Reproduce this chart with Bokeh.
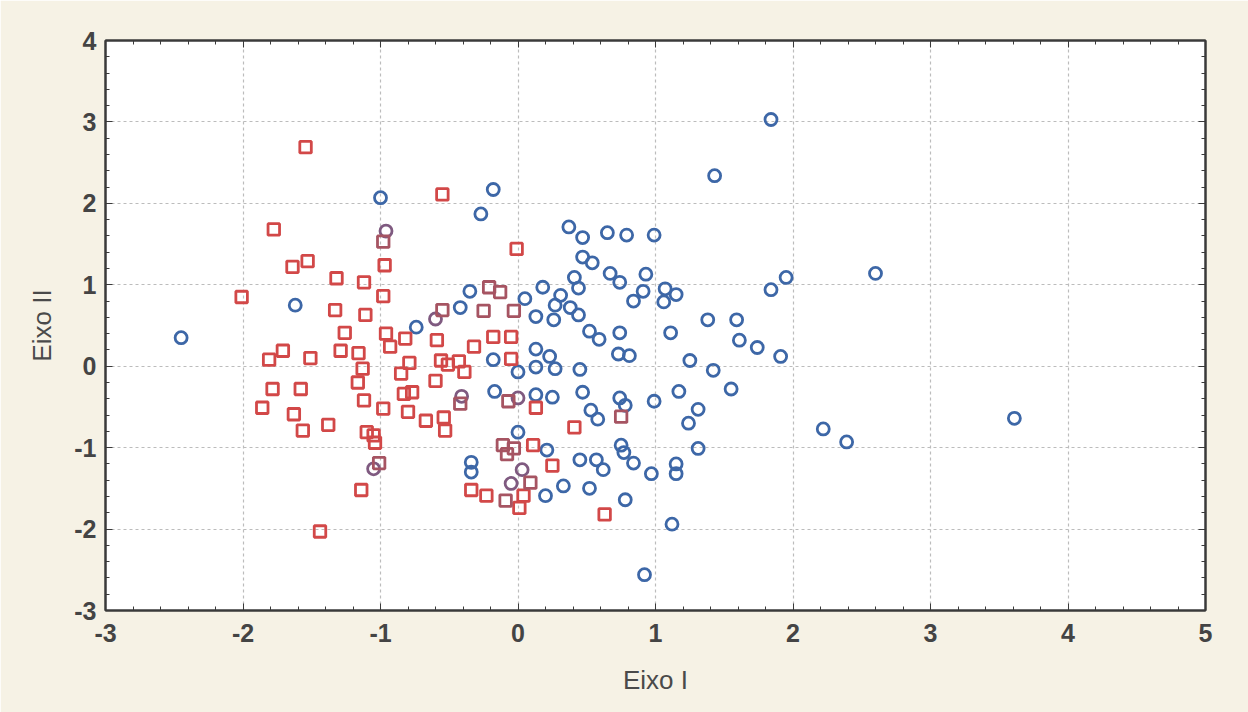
from bokeh.plotting import figure
from bokeh.models import Range1d, LinearAxis, SingleIntervalTicker, CustomJSTickFormatter
from bokeh.embed import file_html
from bokeh.resources import INLINE

# ---- data ----
red_x = [-1.545, -1.776, -2.01, -1.64, -1.53, -1.32, -1.12, -0.97, -0.98, -1.33, -1.11, -1.26, -0.96, -0.93,
         -1.29, -1.16, -1.71, -1.81, -1.51, -1.13, -0.85, -1.165, -1.785, -1.58, -0.83, -1.12, -1.86, -0.98,
         -1.63, -1.38, -1.565, -1.10, -1.05, -1.04, -1.14, -1.44, -0.55, -0.01, -0.82, -0.59, -0.18, -0.05,
         -0.32, -0.05, -0.79, -0.56, -0.51, -0.43, -0.39, -0.60, -0.77, 0.13, -0.80, -0.67, -0.54, -0.53,
         0.41, 0.11, -0.34, -0.23, 0.04, 0.01, 0.25, 0.63]
red_y = [2.69, 1.68, 0.85, 1.22, 1.29, 1.08, 1.03, 1.24, 0.86, 0.69, 0.63, 0.41, 0.40, 0.24,
         0.19, 0.16, 0.19, 0.08, 0.10, -0.03, -0.09, -0.20, -0.28, -0.28, -0.34, -0.42, -0.51, -0.52,
         -0.59, -0.72, -0.79, -0.81, -0.85, -0.94, -1.52, -2.03, 2.11, 1.44, 0.34, 0.32, 0.36, 0.36,
         0.24, 0.09, 0.04, 0.07, 0.02, 0.06, -0.07, -0.18, -0.32, -0.51, -0.56, -0.67, -0.63, -0.79,
         -0.75, -0.97, -1.52, -1.59, -1.59, -1.74, -1.22, -1.82]

mauve_x = [-0.98, -0.55, -0.25, -0.03, -0.21, -0.13, -0.42, -0.07, 0.75, -0.11, -0.03, -0.08, 0.09, -0.09, -1.01]
mauve_y = [1.53, 0.69, 0.68, 0.68, 0.97, 0.91, -0.46, -0.43, -0.62, -0.97, -1.01, -1.08, -1.43, -1.65, -1.19]

purple_x = [-0.96, -0.60, -0.41, 0.0, -1.05, 0.03, -0.05]
purple_y = [1.66, 0.58, -0.37, -0.39, -1.26, -1.27, -1.44]

blue_x = [-1.0, -1.62, -2.45, -0.18, -0.27, 0.37, 0.47, 0.65, 0.79, 0.99, 0.47, 0.54, 0.67, 0.74, 0.93,
          0.41, 0.44, 0.18, 0.31, 0.05, 0.91, 0.84, -0.35, 1.07, 1.15, 1.06, 1.84, 1.43, 1.95, 1.84, 2.6,
          0.27, 0.38, 0.44, 0.13, 0.26, -0.42, -0.74, 0.52, 0.59, 0.74, 0.13, 0.23, 0.73, 0.81, -0.18,
          0.13, 0.27, 0.45, 0.0, -0.17, 0.13, 0.25, 0.47, 0.74, 0.78, 0.53, 0.58, 0.0, 0.21, 0.75, 0.77,
          1.38, 1.59, 1.11, 1.61, 1.74, 1.91, 1.25, 1.42, 1.55, 1.17, 0.99, 1.31, 1.24, 1.31, 2.22, 2.39,
          0.97, 1.15, 1.15, 1.12, 3.61, -0.34, -0.34, 0.20, 0.33, 0.52, 0.45, 0.57, 0.62, 0.84, 0.78, 0.92]
blue_y = [2.07, 0.75, 0.35, 2.17, 1.87, 1.71, 1.58, 1.64, 1.61, 1.61, 1.34, 1.27, 1.14, 1.03, 1.13,
          1.09, 0.96, 0.97, 0.87, 0.83, 0.92, 0.80, 0.92, 0.95, 0.88, 0.79, 3.03, 2.34, 1.09, 0.94, 1.14,
          0.75, 0.72, 0.63, 0.61, 0.57, 0.72, 0.48, 0.43, 0.33, 0.41, 0.21, 0.12, 0.15, 0.13, 0.08,
          -0.01, -0.03, -0.04, -0.07, -0.31, -0.35, -0.38, -0.32, -0.39, -0.48, -0.54, -0.65, -0.81, -1.03, -0.97, -1.06,
          0.57, 0.57, 0.41, 0.32, 0.23, 0.12, 0.07, -0.05, -0.28, -0.31, -0.43, -0.53, -0.70, -1.01, -0.77, -0.93,
          -1.32, -1.20, -1.32, -1.94, -0.64, -1.18, -1.30, -1.59, -1.47, -1.50, -1.15, -1.15, -1.27, -1.19, -1.64, -2.56]

x_ticks = [-3, -2, -1, 0, 1, 2, 3, 4, 5]
y_ticks = [-3, -2, -1, 0, 1, 2, 3, 4]
x_title = "Eixo I"
y_title = "Eixo II"

# ---- figure ----
BG = "#f6f2e5"
FRAME = "#3a3a3a"
p = figure(width=1248, height=712, output_backend="svg", toolbar_location=None,
           x_range=Range1d(x_ticks[0], x_ticks[-1]), y_range=Range1d(y_ticks[0], y_ticks[-1]),
           min_border_left=105, min_border_right=43, min_border_top=40, min_border_bottom=102,
           background_fill_color="white", border_fill_color=BG,
           x_axis_label=x_title, y_axis_label=y_title)
p.outline_line_color = FRAME
p.outline_line_width = 2

plain = CustomJSTickFormatter(code="return tick.toFixed(0).replace('\u2212', '-');")
for ax in (p.xaxis[0], p.yaxis[0]):
    ax.ticker = SingleIntervalTicker(interval=1, num_minor_ticks=5)
    ax.formatter = plain
    ax.axis_line_color = FRAME
    ax.axis_line_width = 2
    ax.major_tick_in = 7
    ax.major_tick_out = 0
    ax.minor_tick_in = 4
    ax.minor_tick_out = 0
    ax.major_tick_line_color = FRAME
    ax.minor_tick_line_color = FRAME
    ax.major_label_text_font = "Liberation Sans"
    ax.major_label_text_font_size = "25px"
    ax.major_label_text_font_style = "bold"
    ax.major_label_text_color = "#444444"
    ax.axis_label_text_font = "Liberation Sans"
    ax.axis_label_text_font_size = "26px"
    ax.axis_label_text_font_style = "normal"
    ax.axis_label_text_color = "#4a4a4a"

p.xaxis.major_label_standoff = 13
p.xaxis.axis_label_standoff = 20
p.yaxis.major_label_standoff = 9
p.yaxis.axis_label_standoff = 14

# tick-only axes on top and right
blank = CustomJSTickFormatter(code="return ''")
for side in ("above", "right"):
    a = LinearAxis(ticker=SingleIntervalTicker(interval=1, num_minor_ticks=5), formatter=blank)
    a.axis_line_color = FRAME
    a.axis_line_width = 2
    a.major_tick_in = 7
    a.major_tick_out = 0
    a.minor_tick_in = 4
    a.minor_tick_out = 0
    a.major_tick_line_color = FRAME
    a.minor_tick_line_color = FRAME
    a.major_label_standoff = 0
    p.add_layout(a, side)

for g in (p.xgrid[0], p.ygrid[0]):
    g.grid_line_color = "#bcbcbc"
    g.grid_line_dash = "3 3"
    g.grid_line_width = 1.2

BLUE = "#3d67a7"
RED = "#d24848"
MAUVE = "#a65462"
PURPLE = "#7f5a80"

p.scatter(blue_x, blue_y, marker="circle", size=12, fill_color=None, line_color=BLUE, line_width=2.8)
p.scatter(purple_x, purple_y, marker="circle", size=12, fill_color=None, line_color=PURPLE, line_width=2.8)
p.scatter(red_x, red_y, marker="square", size=11.5, fill_color=None, line_color=RED, line_width=2.8)
p.scatter(mauve_x, mauve_y, marker="square", size=11.5, fill_color=None, line_color=MAUVE, line_width=2.8)

open("out.html", "w").write(file_html(p, INLINE))
